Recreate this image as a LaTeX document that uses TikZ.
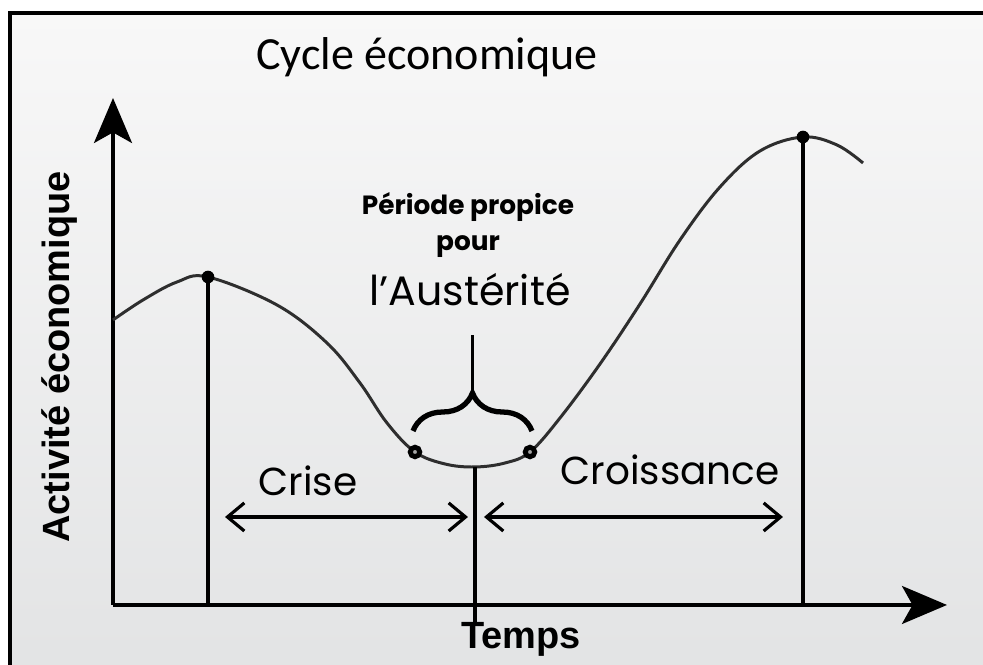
\documentclass[tikz,border=0pt]{standalone}
\usepackage{fontspec}
\setmainfont{Liberation Sans}
\newfontfamily\titlefont{Carlito}
\newfontfamily\roundfont{Poppins}
\definecolor{CYCcurve}{HTML}{2E2E2E}
\definecolor{CYCtop}{HTML}{F8F8F8}
\definecolor{CYCbottom}{HTML}{E2E3E4}
\usetikzlibrary{decorations.pathreplacing, arrows.meta, calc, positioning}

\begin{document}
\begin{tikzpicture}[
   peak/.style={circle, fill=black, inner sep=0pt, minimum size=3.6pt},
   ringdot/.style={circle, draw=black, fill=white!65!black, line width=1.4pt, inner sep=0pt, minimum size=2.7pt},
   drop/.style={line width=0.95pt},
   span/.style={{Straight Barb[length=4.8pt,width=8pt]}-{Straight Barb[length=4.8pt,width=8pt]}, line width=0.9pt},
   phase/.style={font=\roundfont\fontsize{11.1pt}{13pt}\selectfont},
   axislabel/.style={font=\bfseries\fontsize{10.8pt}{13pt}\selectfont}
]
   % Background and frame
   \useasboundingbox (-1.13,-0.60) rectangle (8.70,6.05);
   \fill[white] (-1.30,-0.80) rectangle (8.90,6.20);
   \shade[top color=CYCtop, bottom color=CYCbottom] (-1.03,-0.80) rectangle (8.90,5.92);
   \draw[line width=1.2pt] (-1.03,-0.80) -- (-1.03,5.92) -- (8.90,5.92);
   % Title
   \node[font=\titlefont\fontsize{13.1pt}{16pt}\selectfont] (title) at (3.14,5.48) {Cycle économique};
   % Axes
   \coordinate (O) at (0,0);
   \coordinate (ytip) at (0,5.07);
   \coordinate (xtip) at (8.34,0);
   \draw[-{Stealth[length=12.8pt,width=10.8pt,inset=3pt]}, line width=1.05pt] (O) -- (ytip);
   \draw[-{Stealth[length=12.8pt,width=10.8pt,inset=3pt]}, line width=1.05pt] (O) -- (xtip);
   \node[axislabel, rotate=90] (activity) at (-0.53,2.48) {Activité économique};
   \node[axislabel] (time) at (4.08,-0.34) {Temps};
   % Cycle curve
   \draw[CYCcurve, line width=0.85pt] plot[smooth, tension=0.6] coordinates {
      (0,2.85) (0.30,3.05) (0.64,3.23) (0.95,3.28) (1.64,3.00) (2.14,2.62)
      (2.47,2.22) (2.74,1.82) (3.02,1.53) (3.32,1.41) (3.62,1.38) (3.92,1.42)
      (4.17,1.53) (4.47,1.87) (4.87,2.41) (5.27,3.01) (5.67,3.65) (6.07,4.18)
      (6.47,4.54) (6.90,4.68) (7.24,4.60) (7.50,4.42)};
   % Turning points
   \node[peak] (top1) at (0.95,3.28) {};
   \node[peak] (top2) at (6.90,4.68) {};
   \coordinate (trough) at (3.62,1.38);
   \coordinate (tick) at (3.62,-0.20);
   \draw[drop] (top1.center) -- (top1 |- O);
   \draw[drop] (top2.center) -- (top2 |- O);
   \draw[drop] (trough) -- (tick);
   \node[ringdot] (edge1) at (3.02,1.53) {};
   \node[ringdot] (edge2) at (4.17,1.53) {};
   % Austerity brace
   \coordinate (bl) at (3.00,1.74);
   \coordinate (br) at (4.19,1.74);
   \coordinate (cusp) at ($(bl)!0.5!(br)+(0,0.38)$);
   \coordinate (stem) at ($(cusp)+(0,0.58)$);
   \draw[decorate, decoration={brace, amplitude=10.8pt}, line width=1.5pt] (bl) -- (br);
   \draw[line width=0.95pt] (cusp) -- (stem);
   \node[font=\roundfont\bfseries\fontsize{7.5pt}{10pt}\selectfont, align=center] (period) at (3.55,3.80) {Période propice\\pour};
   \node[font=\roundfont\fontsize{11.7pt}{14pt}\selectfont] (austerity) at (3.57,3.15) {l’Austérité};
   % Phases
   \coordinate (cr1) at (1.12,0.88);
   \coordinate (cr2) at (3.55,0.88);
   \coordinate (gr1) at (3.71,0.88);
   \coordinate (gr2) at (6.70,0.88);
   \draw[span] (cr1) -- (cr2);
   \draw[span] (gr1) -- (gr2);
   \node[phase] (crisis) at (1.95,1.24) {Crise};
   \node[phase] (growth) at (5.57,1.35) {Croissance};
\end{tikzpicture}
\end{document}
